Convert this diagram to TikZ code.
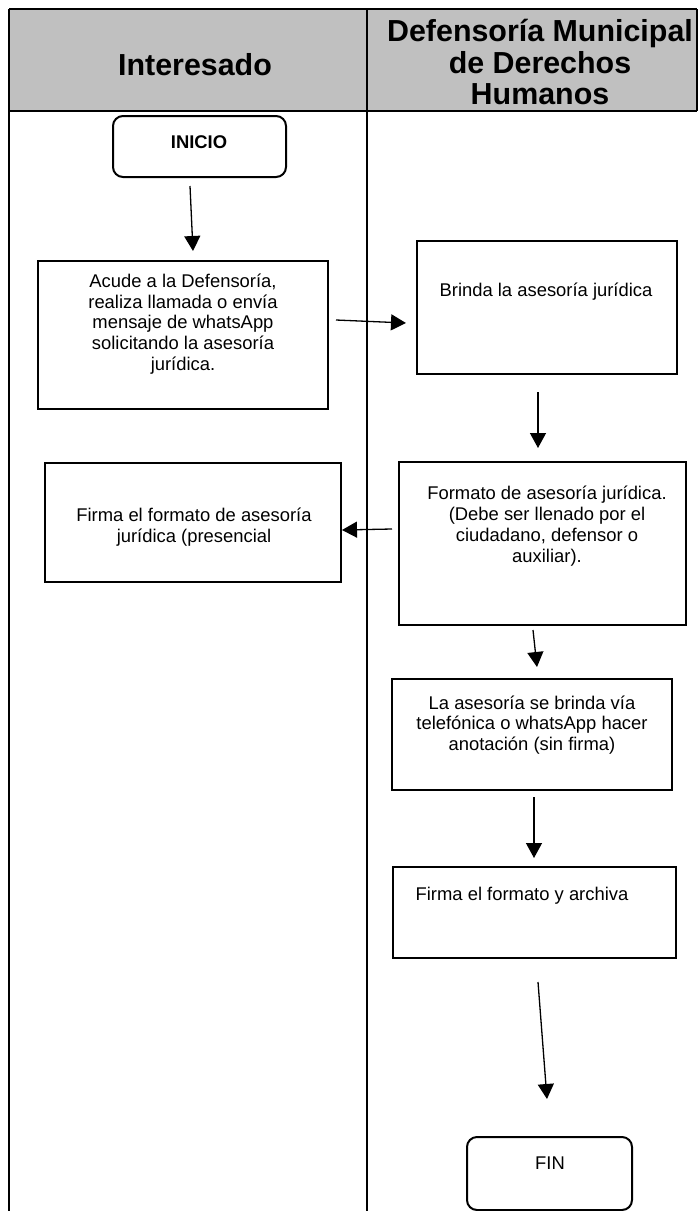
\documentclass[tikz,border=0pt]{standalone}
\usepackage{fontspec}
\setmainfont{Liberation Sans}
\usetikzlibrary{arrows.meta}
\begin{document}
\begin{tikzpicture}[x=0.5pt,y=-0.5pt,
  box/.style={draw,line width=1pt,rectangle,inner sep=0pt},
  term/.style={draw,line width=1pt,rounded corners=5pt,rectangle,inner sep=0pt},
  txt/.style={align=center,inner sep=0pt,font=\fontsize{9.2}{10.4}\selectfont},
  hdr/.style={align=center,inner sep=0pt,font=\fontsize{15.2}{15.8}\selectfont\bfseries},
  flow/.style={line width=0.65pt,-{Triangle[length=7.5pt,width=8pt]}},
  tbl/.style={line width=1.2pt}]
\useasboundingbox (0,0) rectangle (698,1211);
% table
\fill[fill={rgb,255:red,192;green,192;blue,192}] (9,9) rectangle (697,111);
\draw[tbl] (9,9) -- (697,9);
\draw[tbl] (9,111) -- (697,111);
\draw[tbl] (9,9) -- (9,1211);
\draw[tbl] (367,9) -- (367,1211);
\draw[tbl] (697,9) -- (697,111);
\node[hdr] (h1) at (195,65) {Interesado};
\node[hdr] (h2) at (540,62) {Defensoría Municipal\\de Derechos\\Humanos};
% boxes
\node[term, minimum width=86.5pt, minimum height=30.5pt] (inicio) at (199.5,146.5) {};
\node[txt, font=\fontsize{9.2}{10.4}\selectfont\bfseries] (tinicio) at (199,142) {INICIO};
\node[box, minimum width=145pt, minimum height=74pt] (acude) at (183,335) {};
\node[txt] (tacude) at (183,324) {Acude a la Defensoría,\\realiza llamada o envía\\mensaje de whatsApp\\solicitando la asesoría\\jurídica.};
\node[box, minimum width=130pt, minimum height=66.5pt] (brinda) at (547,307.5) {};
\node[txt] (tbrinda) at (546,292) {Brinda la asesoría jurídica};
\node[box, minimum width=148pt, minimum height=59.5pt] (firma) at (193,522.5) {};
\node[txt] (tfirma) at (194,527) {Firma el formato de asesoría\\jurídica (presencial};
\node[box, minimum width=143.5pt, minimum height=81.5pt] (formato) at (542.5,543.5) {};
\node[txt] (tformato) at (547,526) {Formato de asesoría jurídica.\\(Debe ser llenado por el\\ciudadano, defensor o\\auxiliar).};
\node[box, minimum width=140pt, minimum height=55.5pt] (tel) at (532,734.5) {};
\node[txt] (ttel) at (532,725) {La asesoría se brinda vía\\telefónica o whatsApp hacer\\anotación (sin firma)};
\node[box, minimum width=141.5pt, minimum height=45.5pt] (archiva) at (534.5,912.5) {};
\node[txt] (tarchiva) at (522,896) {Firma el formato y archiva};
\node[term, minimum width=82.5pt, minimum height=36.5pt] (fin) at (549.5,1173.5) {};
\node[txt] (tfin) at (550,1163) {FIN};
% arrow ends
\coordinate (a1s) at (190,186); \coordinate (a1e) at (193,251);
\coordinate (a2s) at (336,320); \coordinate (a2e) at (406,323);
\coordinate (a3s) at (538,392); \coordinate (a3e) at (538,448);
\coordinate (a4s) at (392,529); \coordinate (a4e) at (342,530);
\coordinate (a5s) at (533,630); \coordinate (a5e) at (537,667);
\coordinate (a6s) at (534,797); \coordinate (a6e) at (534,858);
\coordinate (a7s) at (538,982); \coordinate (a7e) at (547,1099);
\draw[flow] (a1s) -- (a1e);
\draw[flow] (a2s) -- (a2e);
\draw[flow] (a3s) -- (a3e);
\draw[flow] (a4s) -- (a4e);
\draw[flow] (a5s) -- (a5e);
\draw[flow] (a6s) -- (a6e);
\draw[flow] (a7s) -- (a7e);
\end{tikzpicture}
\end{document}
